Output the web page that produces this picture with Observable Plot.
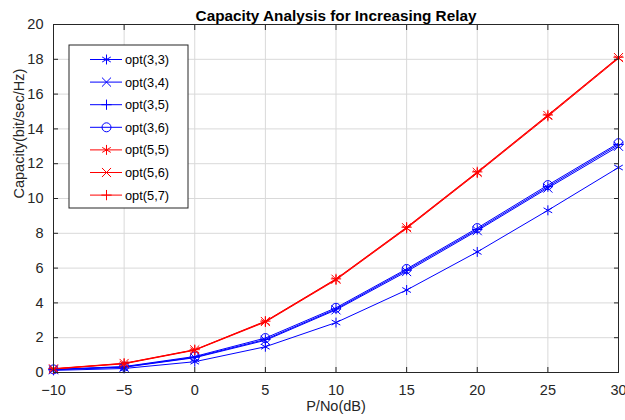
<!DOCTYPE html>
<html>
<head>
<meta charset="utf-8">
<script src="https://cdn.jsdelivr.net/npm/d3@7"></script>
<script src="https://cdn.jsdelivr.net/npm/@observablehq/plot@0.6"></script>
<style>
  html, body { margin: 0; padding: 0; background: #fff; }
  #chart { width: 625px; height: 420px; }
</style>
</head>
<body>
<div id="chart"></div>
<script>
const snr = [-10, -5, 0, 5, 10, 15, 20, 25, 30];
const seriesNames = ["opt(3,3)", "opt(3,4)", "opt(3,5)", "opt(3,6)", "opt(5,5)", "opt(5,6)", "opt(5,7)"];
const opt33 = [0.12, 0.23, 0.62, 1.48, 2.87, 4.74, 6.93, 9.32, 11.78];
const opt34 = [0.16, 0.30, 0.85, 1.85, 3.60, 5.80, 8.15, 10.60, 13.00];
const opt35 = [0.17, 0.32, 0.88, 1.90, 3.65, 5.88, 8.22, 10.68, 13.10];
const opt36 = [0.18, 0.34, 0.92, 1.98, 3.72, 5.95, 8.30, 10.77, 13.18];
const opt55 = [0.20, 0.50, 1.28, 2.90, 5.32, 8.28, 11.46, 14.72, 18.05];
const opt56 = [0.21, 0.52, 1.30, 2.93, 5.36, 8.32, 11.50, 14.77, 18.10];
const opt57 = [0.22, 0.53, 1.31, 2.95, 5.38, 8.35, 11.53, 14.80, 18.12];
const seriesValues = [opt33, opt34, opt35, opt36, opt55, opt56, opt57];
const seriesColors = ["#0000ff", "#0000ff", "#0000ff", "#0000ff", "#ff0000", "#ff0000", "#ff0000"];
const seriesSymbols = ["asterisk", "times", "plus", "circle", "asterisk", "times", "plus"];
const xTicks = [-10, -5, 0, 5, 10, 15, 20, 25, 30];
const yTicks = [0, 2, 4, 6, 8, 10, 12, 14, 16, 18, 20];
const titleText = "Capacity Analysis for Increasing Relay";
const xLabel = "P/No(dB)";
const yLabel = "Capacity(bit/sec/Hz)";

// marker radius per symbol so all glyphs have similar visual extent
const symbolR = {asterisk: 4.7, times: 4.2, plus: 3.4, circle: 4.5};

const rows = [];
seriesNames.forEach((name, i) => {
  snr.forEach((x, j) => rows.push({series: name, x, y: seriesValues[i][j], color: seriesColors[i]}));
});

const axisColor = "#262626";
const fontFamily = "'Liberation Sans', Arial, sans-serif";
const marks = [
  Plot.gridX(xTicks, {stroke: "#d9d9d9", strokeOpacity: 1}),
  Plot.gridY(yTicks, {stroke: "#d9d9d9", strokeOpacity: 1}),
  Plot.line(rows, {x: "x", y: "y", z: "series", stroke: "color", strokeWidth: 1}),
];
seriesNames.forEach((name, i) => {
  marks.push(Plot.dot(rows.filter(d => d.series === name), {
    x: "x", y: "y", symbol: seriesSymbols[i], stroke: seriesColors[i],
    r: symbolR[seriesSymbols[i]], strokeWidth: 1
  }));
});
marks.push(
  Plot.frame({stroke: axisColor, strokeWidth: 1}),
  Plot.axisX(xTicks, {anchor: "bottom", tickSize: -5, tickPadding: 17.5, fontSize: "14.5px", fill: axisColor, stroke: axisColor, label: null}),
  Plot.axisX(xTicks, {anchor: "top", tickSize: -5, tickFormat: () => "", stroke: axisColor, label: null}),
  Plot.axisY(yTicks, {anchor: "left", tickSize: -5, tickPadding: 15, fontSize: "14.5px", fill: axisColor, stroke: axisColor, label: null}),
  Plot.axisY(yTicks, {anchor: "right", tickSize: -5, tickFormat: () => "", stroke: axisColor, label: null}),
  Plot.text([titleText], {frameAnchor: "top", lineAnchor: "middle", dy: -8.5, fontSize: "15.3px", fontWeight: "bold", fill: "#000"}),
  Plot.text([xLabel], {frameAnchor: "bottom", lineAnchor: "middle", dy: 33.6, fontSize: "14.5px", fill: axisColor}),
  Plot.text([yLabel], {frameAnchor: "left", lineAnchor: "middle", dx: -34, rotate: -90, fontSize: "14.5px", fill: axisColor})
);

const svg = Plot.plot({
  width: 625,
  height: 420,
  marginLeft: 53,
  marginRight: 7,
  marginTop: 24,
  marginBottom: 48,
  x: {domain: [-10, 30]},
  y: {domain: [0, 20]},
  color: {type: "identity"},
  style: {fontFamily, fontSize: "14.5px", background: "#fff"},
  marks
});

// Legend box drawn onto the plot SVG
const lg = d3.select(svg).append("g").attr("transform", "translate(69,45)");
lg.append("rect").attr("width", 119).attr("height", 163)
  .attr("fill", "#fff").attr("stroke", axisColor).attr("stroke-width", 1);
const symMap = {asterisk: d3.symbolAsterisk, times: d3.symbolTimes, plus: d3.symbolPlus, circle: d3.symbolCircle};
seriesNames.forEach((name, i) => {
  const cy = 14.5 + i * 22.6;
  const r = symbolR[seriesSymbols[i]];
  const g = lg.append("g").attr("transform", `translate(0,${cy})`);
  g.append("line").attr("x1", 21).attr("x2", 53).attr("y1", 0).attr("y2", 0)
    .attr("stroke", seriesColors[i]).attr("stroke-width", 1);
  g.append("path").attr("transform", "translate(37.5,0)")
    .attr("d", d3.symbol(symMap[seriesSymbols[i]], Math.PI * r * r)())
    .attr("fill", "none").attr("stroke", seriesColors[i]).attr("stroke-width", 1);
  g.append("text").attr("x", 56).attr("y", 0).attr("dy", "0.35em")
    .attr("text-anchor", "start").attr("font-family", fontFamily)
    .attr("font-size", 12.8).attr("fill", "#000").text(name);
});

document.getElementById("chart").appendChild(svg);
</script>
</body>
</html>
